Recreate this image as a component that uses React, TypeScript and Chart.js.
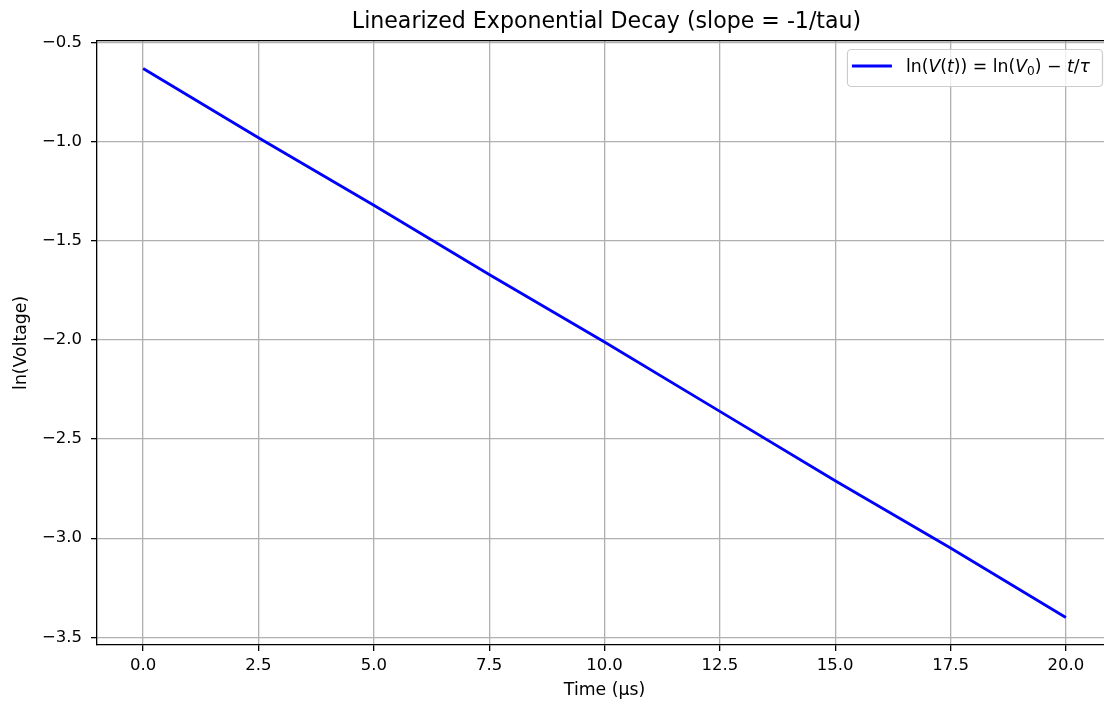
import React, { useEffect, useRef } from "react";
import { Chart, registerables } from "chart.js";

Chart.register(...registerables);

// ---- Data ----
const timeUs = [0, 2.5, 5, 7.5, 10, 12.5, 15, 17.5, 20];
const lnVoltage = [-0.63, -0.98, -1.32, -1.67, -2.01, -2.36, -2.71, -3.05, -3.4];
const xTicks = [0, 2.5, 5, 7.5, 10, 12.5, 15, 17.5, 20];
const yTicks = [-3.5, -3.0, -2.5, -2.0, -1.5, -1.0, -0.5];
const xRange = [-1, 21];
const yRange = [-3.539, -0.49];
const titleText = "Linearized Exponential Decay (slope = -1/tau)";
const xLabel = "Time (µs)";
const yLabel = "ln(Voltage)";
// legend label pieces: [text, style]  (r = regular, i = italic, s = subscript)
const legendParts: [string, string][] = [
  ["ln(", "r"], ["V", "i"], ["(", "r"], ["t", "i"], ["))", "r"], [" = ", "r"],
  ["ln(", "r"], ["V", "i"], ["0", "s"], [")", "r"], [" − ", "r"], ["t", "i"],
  ["/", "r"], ["τ", "i"],
];

const FONT = '"DejaVu Sans", "Liberation Sans", sans-serif';
const TICK_SIZE = 16.5;
const LABEL_SIZE = 17.3;
const fmt = (v: number) => v.toFixed(1).replace("-", "\u2212");

const overlayPlugin = {
  id: "overlay",
  afterDraw(chart: any) {
    const { ctx, chartArea } = chart;
    const { left, right, top } = chartArea;
    ctx.save();
    // top spine
    ctx.strokeStyle = "#000";
    ctx.lineWidth = 1.3;
    ctx.beginPath();
    ctx.moveTo(left, top);
    ctx.lineTo(right, top);
    ctx.stroke();
    // title
    ctx.fillStyle = "#000";
    ctx.font = `22.1px ${FONT}`;
    ctx.textAlign = "center";
    ctx.textBaseline = "alphabetic";
    ctx.fillText(titleText, (left + right) / 2 + 2, 27.9);

    // legend
    const fonts: Record<string, string> = {
      r: `17.3px ${FONT}`,
      i: `italic 17.3px ${FONT}`,
      s: `12.2px ${FONT}`,
    };
    let textW = 0;
    for (const [t, s] of legendParts) {
      ctx.font = fonts[s];
      textW += ctx.measureText(t).width;
    }
    const boxRight = right - 10;
    const boxLeft = boxRight - 12 - textW - 59;
    const boxTop = top + 8.3;
    const boxH = 37;
    ctx.beginPath();
    (ctx as any).roundRect(boxLeft + 0.5, boxTop + 0.5, boxRight - boxLeft, boxH, 4);
    ctx.fillStyle = "rgba(255,255,255,0.8)";
    ctx.fill();
    ctx.strokeStyle = "#cccccc";
    ctx.lineWidth = 1.2;
    ctx.stroke();
    const lineY = boxTop + 17;
    ctx.strokeStyle = "#0000ff";
    ctx.lineWidth = 2.8;
    ctx.beginPath();
    ctx.moveTo(boxLeft + 5, lineY);
    ctx.lineTo(boxLeft + 45, lineY);
    ctx.stroke();
    let x = boxLeft + 59;
    const base = boxTop + 22.7;
    ctx.fillStyle = "#000";
    ctx.textAlign = "left";
    for (const [t, s] of legendParts) {
      ctx.font = fonts[s];
      ctx.fillText(t, x, s === "s" ? base + 3.5 : base);
      x += ctx.measureText(t).width;
    }
    ctx.restore();
  },
};

export default function App() {
  const ref = useRef<HTMLCanvasElement | null>(null);
  useEffect(() => {
    if (!ref.current) return;
    const chart = new Chart(ref.current, {
      type: "line",
      data: {
        datasets: [
          {
            label: "ln(V(t)) = ln(V0) - t/tau",
            data: timeUs.map((t, i) => ({ x: t, y: lnVoltage[i] })),
            borderColor: "#0000ff",
            borderWidth: 2.8,
            pointRadius: 0,
            fill: false,
            tension: 0,
          },
        ],
      },
      options: {
        responsive: false,
        animation: false,
        devicePixelRatio: 1,
        layout: { padding: { top: 40.7, right: 8, left: 0, bottom: 0 } },
        plugins: {
          legend: { display: false },
          title: { display: false },
          tooltip: { enabled: false },
        },
        scales: {
          x: {
            type: "linear",
            min: xRange[0],
            max: xRange[1],
            afterBuildTicks: (s: any) => {
              s.ticks = xTicks.map((v) => ({ value: v }));
            },
            afterFit: (s: any) => {
              s.height = 59;
            },
            ticks: {
              callback: (v: any) => fmt(Number(v)),
              color: "#000",
              font: { family: FONT, size: TICK_SIZE },
              padding: 5,
              maxRotation: 0,
              autoSkip: false,
            },
            grid: {
              color: "#b0b0b0",
              lineWidth: 1.3,
              drawTicks: true,
              tickLength: 6,
              tickColor: "#000",
              tickWidth: 1.3,
            },
            border: { display: true, color: "#000", width: 1.3 },
            title: {
              display: true,
              text: xLabel,
              color: "#000",
              font: { family: FONT, size: LABEL_SIZE },
              padding: { top: 0, bottom: 3.6 },
            },
          },
          y: {
            type: "linear",
            min: yRange[0],
            max: yRange[1],
            afterBuildTicks: (s: any) => {
              s.ticks = yTicks.map((v) => ({ value: v }));
            },
            afterFit: (s: any) => {
              s.width = 97;
            },
            ticks: {
              callback: (v: any) => fmt(Number(v)),
              color: "#000",
              font: { family: FONT, size: TICK_SIZE },
              padding: 9,
              autoSkip: false,
            },
            grid: {
              color: "#b0b0b0",
              lineWidth: 1.3,
              drawTicks: true,
              tickLength: 6,
              tickColor: "#000",
              tickWidth: 1.3,
            },
            border: { display: true, color: "#000", width: 1.3 },
            title: {
              display: true,
              text: yLabel,
              color: "#000",
              font: { family: FONT, size: LABEL_SIZE },
              padding: { top: 11, bottom: 0 },
            },
          },
        },
      },
      plugins: [overlayPlugin],
    });
    return () => chart.destroy();
  }, []);

  return (
    <div
      style={{
        position: "fixed",
        left: 0,
        top: 0,
        width: 1104,
        height: 704,
        overflow: "hidden",
        background: "#fff",
      }}
    >
      <canvas ref={ref} width={1120} height={704} style={{ width: 1120, height: 704, display: "block" }} />
    </div>
  );
}
